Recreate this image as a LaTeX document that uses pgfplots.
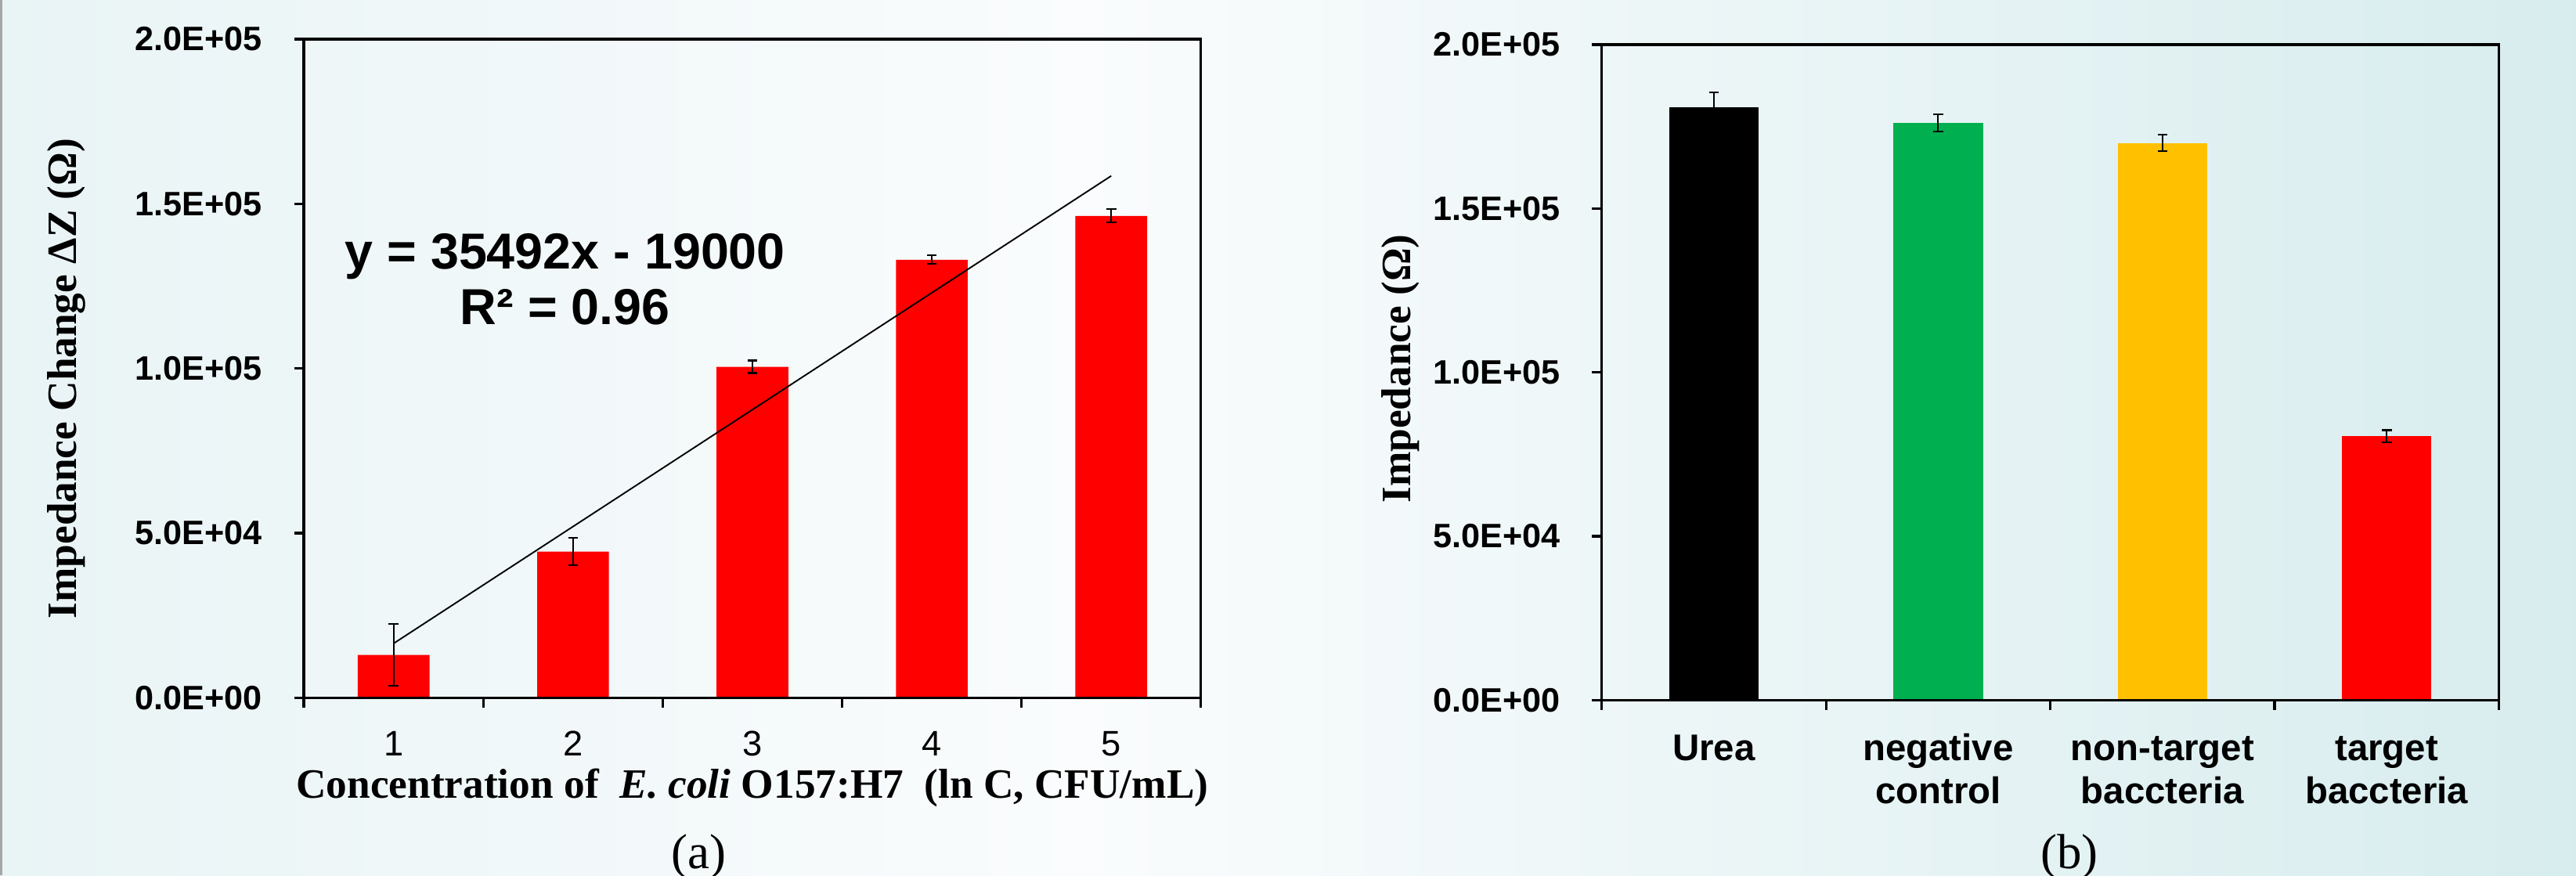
\documentclass[border=0pt]{standalone}
\usepackage{pgfplots}
\usepackage{pgfplotstable}
\pgfplotsset{compat=1.18}
\usepackage{fontspec}
\setmainfont{Liberation Serif}
\setsansfont{Liberation Sans}
\definecolor{bgL}{RGB}{212,234,236}
\definecolor{bgM}{RGB}{250,252,253}
\definecolor{bgR}{RGB}{186,223,225}
\definecolor{barred}{RGB}{255,0,0}
\definecolor{bargreen}{RGB}{0,176,80}
\definecolor{baryellow}{RGB}{255,192,0}
\pgfdeclarehorizontalshading{bgshade}{100bp}{color(0bp)=(bgL); color(46bp)=(bgM); color(100bp)=(bgR)}

\pgfplotstableread{
x y err
1 13000 9400
2 44400 4100
3 100500 1900
4 133000 1300
5 146300 2000
}\conc

\pgfplotsset{
  common/.style={
    scale only axis,
    width=273pt,
    ymin=0, ymax=200000,
    scaled y ticks=false,
    ytick={0,50000,100000,150000,200000},
    yticklabels={0.0E+00,5.0E+04,1.0E+05,1.5E+05,2.0E+05},
    tick align=outside,
    major tick length=3pt,
    tick pos=left,
    axis on top,
    clip=false,
    axis line style={line width=0.8pt},
    major tick style={line width=0.8pt, black},
    yticklabel style={font=\sffamily\bfseries\fontsize{10.3}{12}\selectfont, anchor=east, inner sep=0pt, xshift=-9.5pt},
    ylabel style={font=\bfseries\fontsize{12.7}{15}\selectfont, anchor=center, inner sep=0pt},
  },
  ebar/.style={error bars/.cd, y dir=both, y explicit,
    error bar style={draw=black, line width=0.5pt},
    error mark options={rotate=90, mark size=1.5pt, line width=0.5pt, draw=black}},
}

\begin{document}
\begin{tikzpicture}
\shade[shading=bgshade] (0,0) rectangle (784pt,266.5pt);
\draw[black!35, line width=0.6pt] (0.3pt,0) -- (0.3pt,266.5pt);

% ---------- (a) ----------
\begin{axis}[common,
  at={(92.5pt,54.1pt)}, anchor=south west,
  height=200.5pt,
  xmin=0.5, xmax=5.5,
  xtick={0.5,1.5,2.5,3.5,4.5,5.5},
  x tick label as interval,
  xticklabels={1,2,3,4,5},
  xticklabel style={font=\sffamily\fontsize{10.8}{12}\selectfont, anchor=base, inner sep=0pt, yshift=-14.6pt},
  xlabel={Concentration of\ \ \textit{E. coli} O157:H7\hspace{0.5em}(ln C, CFU/mL)},
  xlabel style={font=\bfseries\fontsize{12.7}{14}\selectfont, at={(axis description cs:0.5,0)}, anchor=base, inner sep=0pt, yshift=-30.45pt},
  ylabel={Impedance Change ΔZ (Ω)},
  ylabel style={at={(axis description cs:-0.2647,0.4845)}},
]
\addplot[ybar, bar width=0.4, bar shift=0pt, fill=barred, draw=none, ebar]
  table[x=x, y=y, y error=err] {\conc};
\addplot[black, line width=0.45pt, no marks] coordinates {(1,16492) (5,158460)};
\node[anchor=base, inner sep=0pt, font=\sffamily\bfseries\fontsize{15.4}{18}\selectfont] at (axis cs:1.956,130330) {y = 35492x - 19000};
\node[anchor=base, inner sep=0pt, font=\sffamily\bfseries\fontsize{15.4}{18}\selectfont] at (axis cs:1.956,113370) {R² = 0.96};
\end{axis}

% ---------- (b) ----------
\begin{axis}[common,
  at={(487.5pt,53.4pt)}, anchor=south west,
  height=199.5pt,
  xmin=0.5, xmax=4.5,
  xtick={0.5,1.5,2.5,3.5,4.5},
  x tick label as interval,
  xticklabels={{\rule{0pt}{8.5pt}Urea},{\rule{0pt}{8.5pt}negative\\control},{\rule{0pt}{8.5pt}non-target\\baccteria},{\rule{0pt}{8.5pt}target\\baccteria}},
  xticklabel style={font=\sffamily\bfseries\fontsize{11.3}{13.1}\selectfont, align=center, anchor=north, inner sep=0pt, yshift=-6.65pt},
  ylabel={Impedance (Ω)},
  ylabel style={at={(axis description cs:-0.2244,0.5055)}},
]
\addplot[ybar, bar width=0.4, bar shift=0pt, fill=black, draw=none, ebar]
  coordinates {(1,180900) +- (0,4600)};
\addplot[ybar, bar width=0.4, bar shift=0pt, fill=bargreen, draw=none, ebar]
  coordinates {(2,176100) +- (0,2560)};
\addplot[ybar, bar width=0.4, bar shift=0pt, fill=baryellow, draw=none, ebar]
  coordinates {(3,169950) +- (0,2500)};
\addplot[ybar, bar width=0.4, bar shift=0pt, fill=barred, draw=none, ebar]
  coordinates {(4,80450) +- (0,1900)};
\end{axis}

\node[anchor=base, inner sep=0pt, font=\fontsize{15}{18}\selectfont] at (212.75pt,2pt) {(a)};
\node[anchor=base, inner sep=0pt, font=\fontsize{15}{18}\selectfont] at (629.75pt,2pt) {(b)};

\pgfresetboundingbox
\path (0,0) rectangle (784pt,266.5pt);
\end{tikzpicture}
\end{document}
